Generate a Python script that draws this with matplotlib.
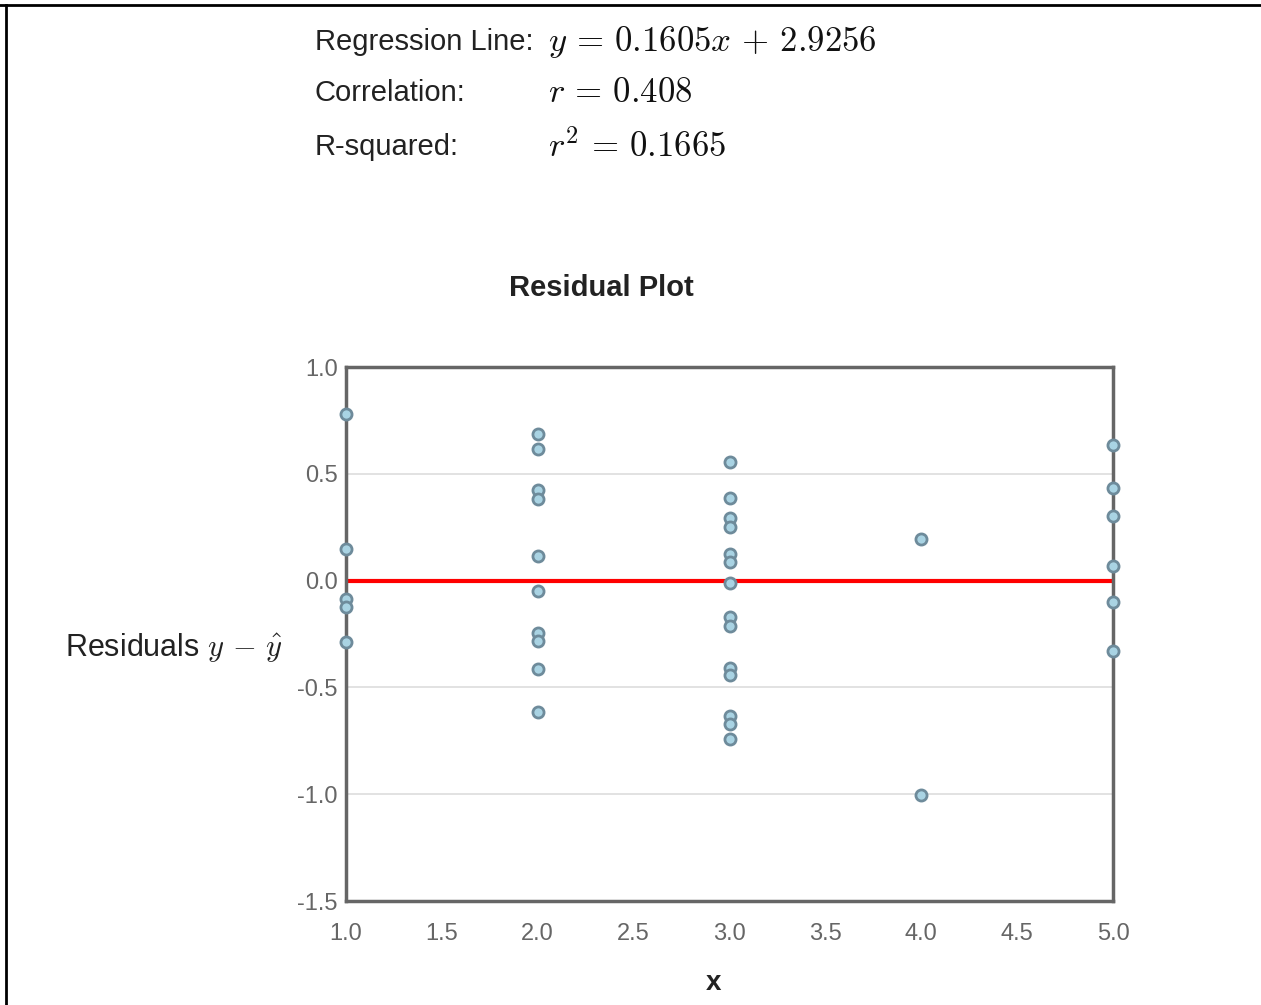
import numpy as np
import matplotlib
matplotlib.use("Agg")
import matplotlib.pyplot as plt
from matplotlib.lines import Line2D

plt.rcParams['font.family'] = ['Liberation Sans', 'DejaVu Sans']
plt.rcParams['mathtext.fontset'] = 'cm'

# residuals, grouped by x
x_vals = [1, 1, 1, 1, 1,
          2, 2, 2, 2, 2, 2, 2, 2, 2, 2,
          3, 3, 3, 3, 3, 3, 3, 3, 3, 3, 3, 3, 3, 3,
          4, 4,
          5, 5, 5, 5, 5, 5]
residuals = [0.78, 0.146, -0.085, -0.122, -0.288,
             0.684, 0.615, 0.423, 0.38, 0.117, -0.05, -0.243, -0.285, -0.415, -0.615,
             0.555, 0.388, 0.294, 0.253, 0.125, 0.086, -0.011, -0.172, -0.211, -0.407, -0.441, -0.634, -0.673, -0.743,
             0.196, -1.005,
             0.634, 0.433, 0.302, 0.067, -0.099, -0.329]

x_ticks = [1.0, 1.5, 2.0, 2.5, 3.0, 3.5, 4.0, 4.5, 5.0]
y_ticks = [-1.5, -1.0, -0.5, 0.0, 0.5, 1.0]
grid_y = [-1.0, -0.5, 0.0, 0.5]

fig = plt.figure(figsize=(12.61, 10.05), dpi=100)
ax = fig.add_axes([346 / 1261, 1 - 901 / 1005, 767 / 1261, 534 / 1005])

for g in grid_y:
    ax.axhline(g, color='#dddddd', lw=1.2, zorder=0)
ax.plot([1, 5], [0, 0], color='red', lw=3, zorder=2)
ax.plot(x_vals, residuals, 'o', ms=8, mfc='#a9d3e3', mec='#6e8b9b', mew=2,
        clip_on=False, zorder=3)

ax.set_xlim(1, 5)
ax.set_ylim(-1.5, 1.0)
ax.set_xticks(x_ticks)
ax.set_yticks(y_ticks)
ax.set_xticklabels(['%.1f' % v for v in x_ticks])
ax.set_yticklabels(['%.1f' % v for v in y_ticks])
ax.tick_params(axis='x', length=0, labelsize=17, colors='#666666', pad=16)
ax.tick_params(axis='y', length=0, labelsize=17, colors='#666666', pad=6)
for s in ax.spines.values():
    s.set_color('#666666')
    s.set_linewidth(2.5)

# labels and header
fig.text(601 / 1261, 1 - 288 / 1005, 'Residual Plot', ha='center', va='center',
         fontsize=21, fontweight='bold', color='#222222')
fig.text(713 / 1261, 1 - 983 / 1005, 'x', ha='center', va='center',
         fontsize=20, fontweight='bold', color='#222222')
fig.text(283 / 1261, 1 - 647 / 1005, r'Residuals $y\,-\,\hat{y}$', ha='right', va='center',
         fontsize=22, color='#222222')

rows = [('Regression Line:', r'$y\,=\,0.1605x\,+\,2.9256$', 42),
        ('Correlation:', r'$r\,=\,0.408$', 93),
        ('R-squared:', r'$r^2\,=\,0.1665$', 147)]
for label, expr, ypix in rows:
    fig.text(315 / 1261, 1 - ypix / 1005, label, ha='left', va='center',
             fontsize=21, color='#222222')
    fig.text(548 / 1261, 1 - ypix / 1005, expr, ha='left', va='center',
             fontsize=25, color='#111111')

# page border: top and left edges only
fig.add_artist(Line2D([0, 1], [1 - 5 / 1005, 1 - 5 / 1005], transform=fig.transFigure,
                      color='black', lw=2))
fig.add_artist(Line2D([6 / 1261, 6 / 1261], [0, 1 - 5 / 1005], transform=fig.transFigure,
                      color='black', lw=2))

fig.savefig('out.png', dpi=100)
